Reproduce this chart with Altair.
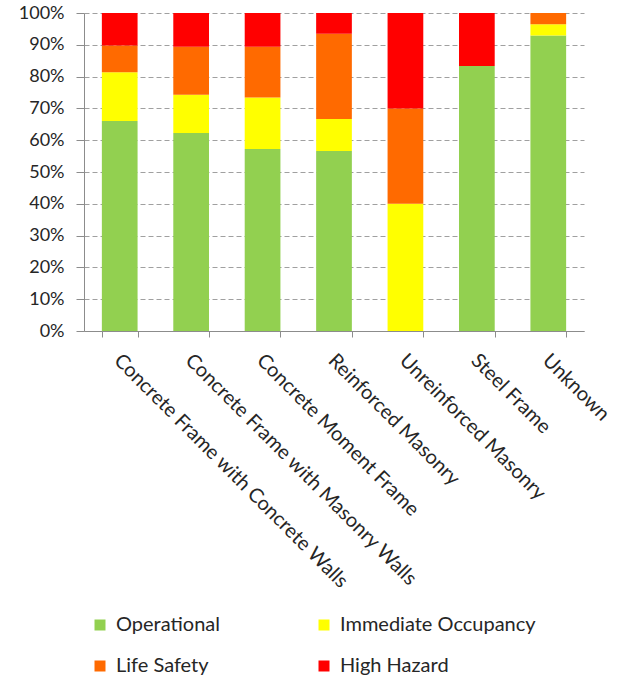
import altair as alt
import pandas as pd

# Building types along the x axis
categories = [
    "Concrete Frame with Concrete Walls",
    "Concrete Frame with Masonry Walls",
    "Concrete Moment Frame",
    "Reinforced Masonry",
    "Unreinforced Masonry",
    "Steel Frame",
    "Unknown",
]

# Performance levels, bottom to top of each stack
levels = ["Operational", "Immediate Occupancy", "Life Safety", "High Hazard"]
level_colors = ["#92D050", "#FFFF00", "#FF6A00", "#FF0000"]

# Share of buildings (%) in each performance level
operational = [66.0, 62.3, 57.2, 56.6, 0.0, 83.3, 92.9]
immediate_occupancy = [15.4, 12.0, 16.2, 10.1, 40.0, 0.0, 3.55]
life_safety = [8.4, 15.1, 16.0, 26.8, 30.0, 0.0, 3.55]
high_hazard = [10.2, 10.6, 10.6, 6.5, 30.0, 16.7, 0.0]

series = [operational, immediate_occupancy, life_safety, high_hazard]
rows = []
for level_idx, (level, values) in enumerate(zip(levels, series)):
    for cat, v in zip(categories, values):
        rows.append({"category": cat, "level": level, "order": level_idx, "share": v})
df = pd.DataFrame(rows)

FONT = "Lato"
TEXT = "#262626"
AXIS_GREY = "#8c8c8c"

chart = (
    alt.Chart(df)
    .mark_bar()
    .encode(
        x=alt.X(
            "category:N",
            sort=categories,
            title=None,
            scale=alt.Scale(paddingInner=0.5, paddingOuter=0.25),
            axis=alt.Axis(
                labelAngle=45,
                labelAlign="left",
                labelBaseline="top",
                labelPadding=13,
                labelOffset=4,
                labelFontSize=20,
                labelFont=FONT,
                labelColor=TEXT,
                labelLimit=400,
                tickBand="extent",
                tickSize=6,
                tickColor=AXIS_GREY,
                domainColor=AXIS_GREY,
                grid=False,
            ),
        ),
        y=alt.Y(
            "share:Q",
            stack="normalize",
            title=None,
            scale=alt.Scale(domain=[0, 1]),
            axis=alt.Axis(
                format=".0%",
                values=[i / 10 for i in range(11)],
                labelFontSize=18,
                labelFont=FONT,
                labelColor=TEXT,
                labelPadding=12,
                tickSize=8,
                tickColor=AXIS_GREY,
                domainColor=AXIS_GREY,
                grid=True,
                gridColor="#a0a0a0",
                gridDash=[5, 3],
                gridWidth=1,
            ),
        ),
        color=alt.Color(
            "level:N",
            sort=levels,
            scale=alt.Scale(domain=levels, range=level_colors),
            legend=alt.Legend(
                title=None,
                orient="none",
                direction="horizontal",
                legendX=6,
                legendY=602,
                columns=2,
                columnPadding=94,
                rowPadding=21,
                symbolType="square",
                symbolSize=121,
                symbolStrokeWidth=0,
                labelFontSize=20,
                labelFont=FONT,
                labelColor=TEXT,
                labelOffset=6,
                labelLimit=300,
            ),
        ),
        order=alt.Order("order:Q", sort="ascending"),
    )
    .properties(
        width=500,
        height=318,
        autosize=alt.AutoSizeParams(type="none"),
        padding={"left": 84, "top": 13, "right": 35, "bottom": 348},
    )
    .configure_view(stroke=None)
)

chart.save("out.html", embed_options={"renderer": "svg", "actions": False})
